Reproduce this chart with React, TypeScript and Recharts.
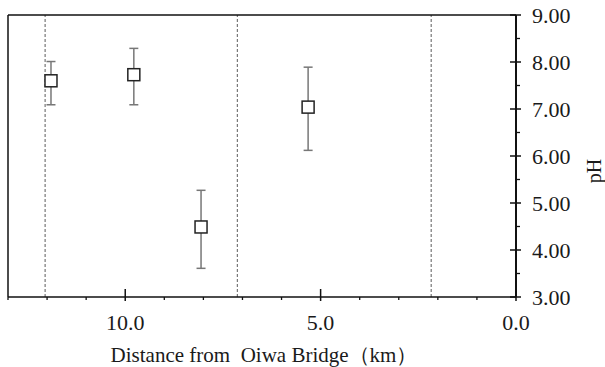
import { ComposedChart, Scatter, XAxis, YAxis, ErrorBar, ReferenceLine, Label } from "recharts";

const distanceKm = [11.9, 9.78, 8.06, 5.32];
const phMean = [7.6, 7.73, 4.49, 7.04];
const phErrLow = [0.51, 0.64, 0.88, 0.92];
const phErrHigh = [0.41, 0.56, 0.78, 0.85];

const sectionBounds = [12.05, 7.13, 2.17];

const xTicks = [0, 1, 2, 3, 4, 5, 6, 7, 8, 9, 10, 11, 12, 13];
const xMajor = [0, 5, 10];
const yTicks = [3, 3.5, 4, 4.5, 5, 5.5, 6, 6.5, 7, 7.5, 8, 8.5, 9];

const data = distanceKm.map((d, i) => ({
  dist: d,
  ph: phMean[i],
  err: [phErrLow[i], phErrHigh[i]],
}));

const serif = { fontFamily: '"Liberation Serif", "DejaVu Serif", serif' };

function XTick(props: any) {
  const { x, y, payload } = props;
  const v = payload.value;
  const major = xMajor.includes(v);
  return (
    <g>
      {major ? (
        <line x1={x} x2={x} y1={y - 8} y2={y + 4} stroke="#111" strokeWidth={1.5} />
      ) : (
        <line x1={x} x2={x} y1={y} y2={y + 3} stroke="#111" strokeWidth={1.3} />
      )}
      {major && (
        <text x={x} y={y + 33} textAnchor="middle" style={serif} fontSize={22} fill="#1a1a1a">
          {v.toFixed(1)}
        </text>
      )}
    </g>
  );
}

function YTick(props: any) {
  const { x, y, payload } = props;
  const v = payload.value;
  const major = Number.isInteger(v);
  return (
    <g>
      {major ? (
        <line x1={x - 6} x2={x + 5} y1={y} y2={y} stroke="#111" strokeWidth={1.5} />
      ) : (
        <line x1={x} x2={x + 4} y1={y} y2={y} stroke="#111" strokeWidth={1.3} />
      )}
      {major && (
        <text x={x + 16} y={y + 7.5} textAnchor="start" style={serif} fontSize={22} fill="#1a1a1a">
          {v.toFixed(2)}
        </text>
      )}
    </g>
  );
}

const square = (props: any) => {
  const { cx, cy } = props;
  return <rect x={cx - 6} y={cy - 6} width={12} height={12} fill="#fff" stroke="#222" strokeWidth={1.5} />;
};

export default function App() {
  return (
    <div style={{ position: "absolute", left: 0, top: 0 }}>
      <ComposedChart width={605} height={367} data={data} margin={{ top: 15, right: 0, bottom: 0, left: 8 }}>
        <XAxis
          type="number"
          dataKey="dist"
          domain={[0, 13]}
          reversed
          ticks={xTicks}
          interval={0}
          height={70}
          tickLine={false}
          tickSize={0}
          tickMargin={0}
          tick={<XTick />}
          axisLine={{ stroke: "#111", strokeWidth: 1.5 }}
        >
          <Label
            content={(p: any) => {
              const vb = p.viewBox;
              return (
                <text
                  x={vb.x + vb.width / 2 + 2}
                  y={vb.y + 65}
                  textAnchor="middle"
                  fontSize={21}
                  fill="#1a1a1a"
                  style={{ ...serif, whiteSpace: "pre" }}
                >
                  {"Distance from  Oiwa Bridge（km）"}
                </text>
              );
            }}
          />
        </XAxis>
        <YAxis
          type="number"
          orientation="right"
          domain={[3, 9]}
          ticks={yTicks}
          interval={0}
          width={89}
          tickLine={false}
          tickSize={0}
          tickMargin={0}
          tick={<YTick />}
          axisLine={{ stroke: "#111", strokeWidth: 2 }}
        >
          <Label
            content={(p: any) => {
              const vb = p.viewBox;
              const cx = vb.x + 78;
              const cy = vb.y + vb.height / 2 + 15;
              return (
                <text
                  x={cx}
                  y={cy}
                  textAnchor="middle"
                  dominantBaseline="central"
                  fontSize={20}
                  fill="#1a1a1a"
                  style={serif}
                  transform={`rotate(-90, ${cx}, ${cy})`}
                >
                  pH
                </text>
              );
            }}
          />
        </YAxis>
        {sectionBounds.map((b) => (
          <ReferenceLine key={b} x={b} stroke="#777" strokeDasharray="3 2" strokeWidth={1.2} />
        ))}
        <ReferenceLine y={9} stroke="#111" strokeWidth={1.5} />
        <ReferenceLine x={13} stroke="#111" strokeWidth={1.5} />
        <Scatter dataKey="ph" shape={square} isAnimationActive={false}>
          <ErrorBar dataKey="err" direction="y" width={4.5} stroke="#777" strokeWidth={1.5} />
        </Scatter>
      </ComposedChart>
    </div>
  );
}
